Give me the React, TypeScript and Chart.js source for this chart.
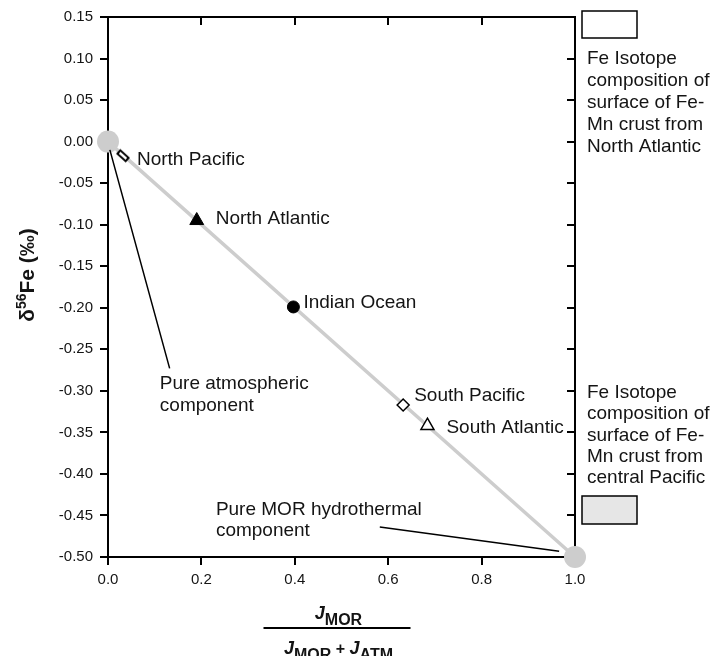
import React, { useEffect, useRef } from 'react';
import { Chart, registerables } from 'chart.js';

Chart.register(...registerables);

// ---------- data ----------
const xTickValues = [0, 0.2, 0.4, 0.6, 0.8, 1.0];
const yTickValues = [0.15, 0.1, 0.05, 0, -0.05, -0.1, -0.15, -0.2, -0.25, -0.3, -0.35, -0.4, -0.45, -0.5];

const endMemberFraction = [0, 1];
const endMemberDelta = [0, -0.5];

const siteNames = ['North Pacific', 'North Atlantic', 'Indian Ocean', 'South Pacific', 'South Atlantic'];
const siteFraction = [0.032, 0.19, 0.397, 0.632, 0.684];
const siteDelta = [-0.017, -0.095, -0.199, -0.317, -0.342];

const legendTopLines = ['Fe Isotope', 'composition of', 'surface of Fe-', 'Mn crust from', 'North Atlantic'];
const legendBottomLines = ['Fe Isotope', 'composition of', 'surface of Fe-', 'Mn crust from', 'central Pacific'];

const atmLabelLines = ['Pure atmospheric', 'component'];
const morLabelLines = ['Pure MOR hydrothermal', 'component'];

// ---------- styles / layout ----------
const FONT = "'Liberation Sans', Arial, Helvetica, sans-serif";
const TEXT = '#141414';
const GREY = '#cdcdcd';

// label offsets (px) relative to each site marker
const siteLabelOffset = [
  [14, 4],
  [19, -2],
  [10, -4],
  [11, -9],
  [19, 2],
];

// annotation anchors in data units
const atmText = { x: 0.111, y: [-0.292, -0.318] };
const atmLeader = { from: [0.004, -0.01], to: [0.132, -0.273] };
const morText = { x: 0.231, y: [-0.443, -0.469] };
const morLeader = { from: [0.582, -0.464], to: [0.966, -0.493] };

function makeNorthPacificMarker(): HTMLCanvasElement {
  const c = document.createElement('canvas');
  c.width = 18;
  c.height = 18;
  const ctx = c.getContext('2d')!;
  ctx.translate(9, 9);
  ctx.rotate(Math.atan2(415, 467));
  ctx.fillStyle = '#fff';
  ctx.strokeStyle = '#000';
  ctx.lineWidth = 2;
  ctx.beginPath();
  ctx.rect(-5.5, -2.2, 11, 4.4);
  ctx.fill();
  ctx.stroke();
  return c;
}

const decorPlugin = {
  id: 'decor',
  beforeDatasetsDraw(chart: any) {
    const { ctx, chartArea: a, scales } = chart;
    const xs = scales.x;
    const ys = scales.y;
    ctx.save();
    ctx.strokeStyle = '#000';
    ctx.lineWidth = 2;
    ctx.beginPath();
    ctx.moveTo(a.left - 1, a.top);
    ctx.lineTo(a.right, a.top);
    ctx.lineTo(a.right, a.bottom + 1);
    ctx.stroke();
    ctx.beginPath();
    ys.ticks.forEach((t: any) => {
      const y = Math.round(ys.getPixelForValue(t.value));
      ctx.moveTo(a.right, y);
      ctx.lineTo(a.right - 8, y);
    });
    xs.ticks.forEach((t: any) => {
      const x = Math.round(xs.getPixelForValue(t.value));
      ctx.moveTo(x, a.top);
      ctx.lineTo(x, a.top + 8);
    });
    ctx.stroke();
    ctx.restore();
  },
  afterDatasetsDraw(chart: any) {
    const { ctx, chartArea: a, scales } = chart;
    const xs = scales.x;
    const ys = scales.y;
    const px = (v: number) => xs.getPixelForValue(v);
    const py = (v: number) => ys.getPixelForValue(v);
    ctx.save();

    // site labels
    ctx.font = `19px ${FONT}`;
    ctx.fillStyle = TEXT;
    ctx.textAlign = 'left';
    ctx.textBaseline = 'middle';
    siteNames.forEach((name, i) => {
      ctx.fillText(name, px(siteFraction[i]) + siteLabelOffset[i][0], py(siteDelta[i]) + siteLabelOffset[i][1]);
    });

    // annotations
    atmLabelLines.forEach((l, i) => ctx.fillText(l, px(atmText.x), py(atmText.y[i])));
    morLabelLines.forEach((l, i) => ctx.fillText(l, px(morText.x), py(morText.y[i])));
    ctx.strokeStyle = '#000';
    ctx.lineWidth = 1.5;
    ctx.beginPath();
    ctx.moveTo(px(atmLeader.from[0]), py(atmLeader.from[1]));
    ctx.lineTo(px(atmLeader.to[0]), py(atmLeader.to[1]));
    ctx.moveTo(px(morLeader.from[0]), py(morLeader.from[1]));
    ctx.lineTo(px(morLeader.to[0]), py(morLeader.to[1]));
    ctx.stroke();

    // legend boxes on right
    const bx = a.right + 7;
    ctx.lineWidth = 1.5;
    ctx.fillStyle = '#ffffff';
    ctx.fillRect(bx, 11, 55, 27);
    ctx.strokeRect(bx, 11, 55, 27);
    ctx.fillStyle = '#e6e6e6';
    ctx.fillRect(bx, 496, 55, 28);
    ctx.strokeRect(bx, 496, 55, 28);

    ctx.fillStyle = TEXT;
    ctx.textBaseline = 'alphabetic';
    legendTopLines.forEach((l, i) => ctx.fillText(l, a.right + 12, 64 + i * 22));
    legendBottomLines.forEach((l, i) => ctx.fillText(l, a.right + 12, 398 + i * 21.3));

    // y-axis title: δ56Fe (‰)
    ctx.save();
    ctx.translate(34, 275);
    ctx.rotate(-Math.PI / 2);
    const big = `bold 21px ${FONT}`;
    const small = `bold 14px ${FONT}`;
    const parts: [string, string, number][] = [
      ['\u03B4', big, 0],
      ['56', small, -8],
      ['Fe (\u2030)', big, 0],
    ];
    let total = 0;
    parts.forEach(([t, f]) => { ctx.font = f; total += ctx.measureText(t).width; });
    let cx = -total / 2;
    ctx.textAlign = 'left';
    parts.forEach(([t, f, dy]) => {
      ctx.font = f;
      ctx.fillText(t, cx, dy);
      cx += ctx.measureText(t).width;
    });
    ctx.restore();

    // x-axis title: fraction
    const centerX = (a.left + a.right) / 2 - 3;
    const J = `italic bold 18px ${FONT}`;
    const S = `bold 16px ${FONT}`;
    const drawRow = (row: [string, string, number][], baseY: number) => {
      let w = 0;
      row.forEach(([t, f]) => { ctx.font = f; w += ctx.measureText(t).width; });
      let x = centerX - w / 2;
      row.forEach(([t, f, dy]) => {
        ctx.font = f;
        ctx.fillText(t, x, baseY + dy);
        x += ctx.measureText(t).width;
      });
    };
    ctx.textAlign = 'left';
    drawRow([['J', J, 0], ['MOR', S, 6]], 619);
    drawRow([['J', J, 0], ['MOR', S, 6], [' + ', S, 0], ['J', J, 0], ['ATM', S, 6]], 654);
    ctx.strokeStyle = '#000';
    ctx.lineWidth = 1.8;
    ctx.beginPath();
    ctx.moveTo(centerX - 75, 628);
    ctx.lineTo(centerX + 72, 628);
    ctx.stroke();

    ctx.restore();
  },
};

export default function App() {
  const ref = useRef<HTMLCanvasElement | null>(null);

  useEffect(() => {
    if (!ref.current) return;
    const npMarker = makeNorthPacificMarker();
    const siteStyles: any[] = [
      { pointStyle: npMarker, radius: 9, bg: '#fff', border: '#000', bw: 0 },
      { pointStyle: 'triangle', radius: 8, bg: '#000', border: '#000', bw: 1 },
      { pointStyle: 'circle', radius: 6, bg: '#000', border: '#000', bw: 1 },
      { pointStyle: 'rectRot', radius: 6, bg: '#fff', border: '#000', bw: 1.5 },
      { pointStyle: 'triangle', radius: 7.5, bg: '#fff', border: '#000', bw: 1.5 },
    ];

    const siteDatasets = siteNames.map((name, i) => ({
      type: 'scatter' as const,
      label: name,
      data: [{ x: siteFraction[i], y: siteDelta[i] }],
      pointStyle: siteStyles[i].pointStyle,
      pointRadius: siteStyles[i].radius,
      backgroundColor: siteStyles[i].bg,
      borderColor: siteStyles[i].border,
      borderWidth: siteStyles[i].bw,
      clip: false as any,
      order: 0,
    }));

    const endPoints = endMemberFraction.map((x, i) => ({ x, y: endMemberDelta[i] }));

    const chart = new Chart(ref.current, {
      type: 'scatter',
      data: {
        datasets: [
          ...siteDatasets,
          {
            type: 'scatter' as const,
            label: 'End members',
            data: endPoints,
            pointRadius: 11,
            backgroundColor: GREY,
            borderWidth: 0,
            clip: false as any,
            order: 5,
          } as any,
          {
            type: 'line' as const,
            label: 'Mixing line',
            data: endPoints,
            borderColor: GREY,
            borderWidth: 3.5,
            pointRadius: 0,
            fill: false,
            clip: false as any,
            order: 10,
          } as any,
        ],
      },
      options: {
        responsive: false,
        animation: false,
        devicePixelRatio: 1,
        layout: { padding: { top: 17, right: 140, left: 0, bottom: 0 } },
        plugins: {
          legend: { display: false },
          tooltip: { enabled: false },
        },
        scales: {
          x: {
            type: 'linear',
            min: 0,
            max: 1,
            afterFit: (s: any) => { s.height = 99; },
            afterBuildTicks: (s: any) => { s.ticks = xTickValues.map((v) => ({ value: v })); },
            ticks: {
              callback: (v: any) => Number(v).toFixed(1),
              font: { family: FONT, size: 15 },
              color: TEXT,
              padding: 6,
              maxRotation: 0,
            },
            grid: { drawOnChartArea: false, drawTicks: true, tickLength: 8, color: '#000', lineWidth: 2 },
            border: { display: true, color: '#000', width: 2 },
          },
          y: {
            type: 'linear',
            min: -0.5,
            max: 0.15,
            afterFit: (s: any) => { s.width = 108; },
            afterBuildTicks: (s: any) => { s.ticks = yTickValues.map((v) => ({ value: v })); },
            ticks: {
              callback: (v: any) => Number(v).toFixed(2),
              font: { family: FONT, size: 15 },
              color: TEXT,
              padding: 7,
            },
            grid: { drawOnChartArea: false, drawTicks: true, tickLength: 8, color: '#000', lineWidth: 2 },
            border: { display: true, color: '#000', width: 2 },
          },
        },
      } as any,
      plugins: [decorPlugin],
    });

    return () => chart.destroy();
  }, []);

  return (
    <div style={{ position: 'absolute', left: 0, top: 0, width: 715, height: 656, background: '#fff' }}>
      <canvas ref={ref} width={715} height={656} style={{ display: 'block' }} />
    </div>
  );
}
